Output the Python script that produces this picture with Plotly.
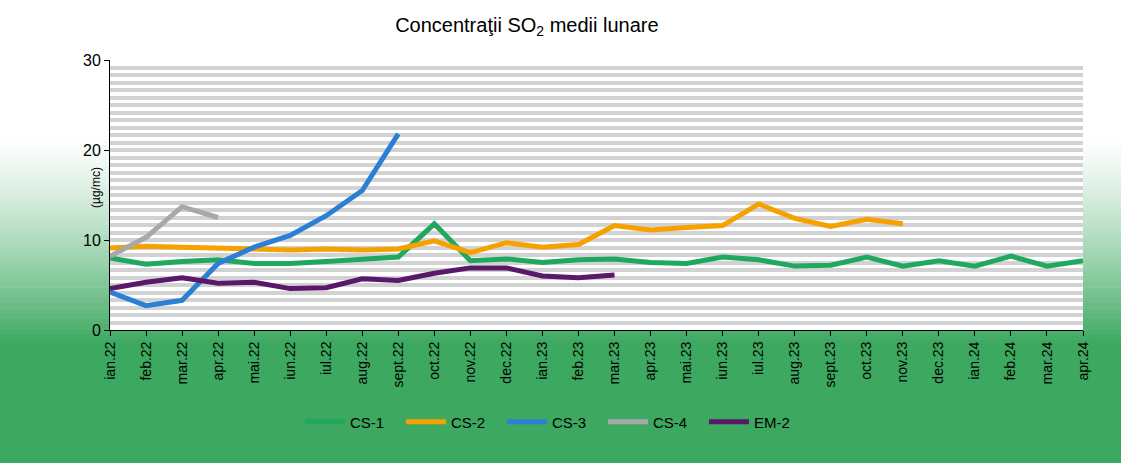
import plotly.graph_objects as go

months = ["ian.22", "feb.22", "mar.22", "apr.22", "mai.22", "iun.22", "iul.22", "aug.22",
          "sept.22", "oct.22", "nov.22", "dec.22", "ian.23", "feb.23", "mar.23", "apr.23",
          "mai.23", "iun.23", "iul.23", "aug.23", "sept.23", "oct.23", "nov.23", "dec.23",
          "ian.24", "feb.24", "mar.24", "apr.24"]

cs1 = [8.0, 7.3, 7.6, 7.8, 7.4, 7.4, 7.6, 7.9, 8.1, 11.8, 7.7, 7.9, 7.5, 7.8, 7.9, 7.5,
       7.4, 8.1, 7.8, 7.1, 7.2, 8.1, 7.1, 7.7, 7.1, 8.2, 7.1, 7.7]
cs2 = [9.1, 9.3, 9.2, 9.1, 9.0, 8.9, 9.0, 8.9, 9.0, 9.9, 8.6, 9.7, 9.2, 9.5, 11.6, 11.1,
       11.4, 11.6, 14.0, 12.4, 11.5, 12.3, 11.8]
cs3 = [4.2, 2.7, 3.3, 7.4, 9.2, 10.5, 12.7, 15.5, 21.8]
cs4 = [8.2, 10.3, 13.7, 12.5]
em2 = [4.6, 5.3, 5.8, 5.2, 5.3, 4.6, 4.7, 5.7, 5.5, 6.3, 6.9, 6.9, 6.0, 5.8, 6.1]

series = [
    ("CS-1", cs1, "#1fa85e"),
    ("CS-2", cs2, "#f5a200"),
    ("CS-3", cs3, "#2b7fd4"),
    ("CS-4", cs4, "#a8a8a8"),
    ("EM-2", em2, "#5a1868"),
]

W, H = 1121, 463
M_L, M_R, M_T, M_B = 110, 38, 60, 133
plot_h = H - M_T - M_B
plot_w = W - M_L - M_R

fig = go.Figure()
for name, vals, color in series:
    fig.add_trace(go.Scatter(
        x=months[:len(vals)], y=vals, name=name, mode="lines",
        line=dict(color=color, width=5),
    ))


def py_to_paper(py):
    return (H - M_B - py) / plot_h


def px_to_paper(px):
    return (px - M_L) / plot_w


# background gradient (scanned page: white top fading to green at the bottom)
shapes = []
top_px, full_px = 135, 345
n = 40
c0 = (255, 255, 255)
c1 = (60, 168, 96)
for i in range(n):
    a = top_px + (full_px - top_px) * i / n
    b = top_px + (full_px - top_px) * (i + 1) / n
    t = ((i + 0.5) / n) ** 1.3
    col = tuple(int(c0[k] + (c1[k] - c0[k]) * t) for k in range(3))
    shapes.append(dict(type="rect", xref="paper", yref="paper",
                       x0=px_to_paper(-10), x1=px_to_paper(W + 10),
                       y0=py_to_paper(b + 0.5), y1=py_to_paper(a),
                       fillcolor="rgb(%d,%d,%d)" % col, line=dict(width=0), layer="below"))
shapes.append(dict(type="rect", xref="paper", yref="paper",
                   x0=px_to_paper(-10), x1=px_to_paper(W + 10),
                   y0=py_to_paper(H + 10), y1=py_to_paper(full_px),
                   fillcolor="rgb(%d,%d,%d)" % c1, line=dict(width=0), layer="below"))
# plot area background
shapes.append(dict(type="rect", xref="paper", yref="paper", x0=0, x1=1, y0=0, y1=1,
                   fillcolor="white", line=dict(width=0), layer="below"))

fig.update_layout(
    width=W, height=H,
    margin=dict(l=M_L, r=M_R, t=M_T, b=M_B),
    paper_bgcolor="white",
    plot_bgcolor="rgba(0,0,0,0)",
    font=dict(family="Liberation Sans, Arial, sans-serif", color="black", size=13),
    title=dict(text="Concentraţii SO<sub>2</sub> medii lunare", x=0.47, xanchor="center",
               y=1 - 25 / H, yanchor="middle", font=dict(size=20)),
    shapes=shapes,
    annotations=[dict(text="(µg/mc)", xref="paper", yref="paper",
                      x=px_to_paper(96), y=py_to_paper(188), textangle=-90,
                      showarrow=False, font=dict(size=12), xanchor="center", yanchor="middle")],
    showlegend=True,
    legend=dict(orientation="h", x=px_to_paper(300), xanchor="left", y=py_to_paper(422),
                yanchor="middle", bgcolor="rgba(0,0,0,0)", font=dict(size=15),
                entrywidth=46, entrywidthmode="pixels", itemwidth=40,
                traceorder="normal"),
    xaxis=dict(type="category", range=[0, len(months) - 1], tickangle=-90,
               showline=True, linecolor="black", linewidth=1, ticks="outside", ticklen=5,
               tickcolor="black", showgrid=False, zeroline=False, tickfont=dict(size=14)),
    yaxis=dict(range=[0, 30], tickvals=[0, 10, 20, 30], showline=True, linecolor="black",
               linewidth=1, ticks="outside", ticklen=5, tickcolor="black",
               showgrid=True, gridcolor="rgb(210,210,210)", gridwidth=4, zeroline=False,
               tickfont=dict(size=16),
               minor=dict(tick0=0, dtick=30 / 36, showgrid=True, gridcolor="rgb(210,210,210)",
                          gridwidth=4, ticks="")),
)

fig.write_html("out.html", config={"displayModeBar": False})

with open("out.html", "r", encoding="utf-8") as f:
    html = f.read()
html = html.replace("<head>", "<head><style>html,body{margin:0;padding:0;overflow:hidden}</style>", 1)
with open("out.html", "w", encoding="utf-8") as f:
    f.write(html)
